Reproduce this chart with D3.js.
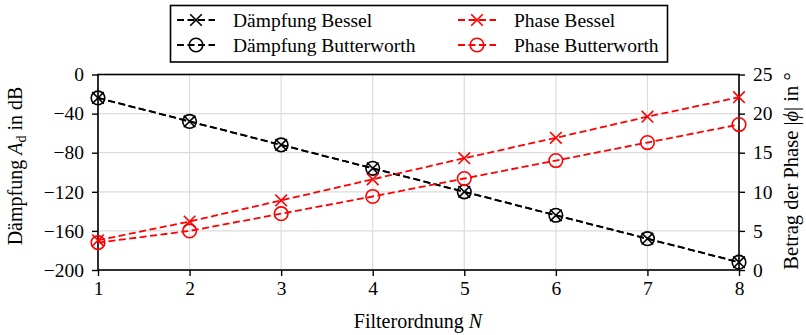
<!DOCTYPE html>
<html>
<head>
<meta charset="utf-8">
<script src="https://cdn.jsdelivr.net/npm/d3@7"></script>
<style>
  html, body { margin: 0; padding: 0; background: #fff; }
  svg text { font-family: "Liberation Serif", "DejaVu Serif", serif; fill: #000; }
</style>
</head>
<body>
<svg id="chart" width="806" height="335"></svg>
<script>
// Filter order on the x axis
const orders = [1, 2, 3, 4, 5, 6, 7, 8];

// Attenuation in dB (left axis)
const daempfungBessel      = [-24, -48, -72, -96, -120, -144, -168, -192];
const daempfungButterworth = [-24, -48, -72, -96, -120, -144, -168, -192];

// Magnitude of the phase in degrees (right axis)
const phaseBessel      = [3.8, 6.2, 8.9, 11.6, 14.3, 16.9, 19.6, 22.1];
const phaseButterworth = [3.5, 5.0, 7.2, 9.4, 11.7, 14.0, 16.3, 18.6];

// Tick labels
const xTicks = [1, 2, 3, 4, 5, 6, 7, 8];
const yLeftTicks = [0, -40, -80, -120, -160, -200];
const yRightTicks = [0, 5, 10, 15, 20, 25];

const svg = d3.select("#chart");
const m = { left: 98, right: 739, top: 74.5, bottom: 270 };

const x = d3.scaleLinear().domain([1, 8]).range([m.left, m.right]);
const yL = d3.scaleLinear().domain([-200, 0]).range([m.bottom, m.top]);
const yR = d3.scaleLinear().domain([0, 25]).range([m.bottom, m.top]);

// Grid
const grid = svg.append("g").attr("stroke", "#dcdcdc").attr("stroke-width", 1.2);
xTicks.forEach(t => grid.append("line")
  .attr("x1", x(t)).attr("x2", x(t)).attr("y1", m.top).attr("y2", m.bottom));
yLeftTicks.forEach(t => grid.append("line")
  .attr("x1", m.left).attr("x2", m.right).attr("y1", yL(t)).attr("y2", yL(t)));

const fmtMinus = d => (d < 0 ? "\u2212" + Math.abs(d) : String(d));

// Axes
const axisStyle = g => {
  g.select(".domain").remove();
  g.selectAll(".tick line").attr("stroke", "#000").attr("stroke-width", 1.4);
  g.selectAll(".tick text").style("font-size", "19.5px").attr("fill", "#000");
};

svg.append("g").attr("transform", `translate(0,${m.bottom})`)
  .call(d3.axisBottom(x).tickValues(xTicks).tickSize(6).tickPadding(5).tickFormat(d3.format("d")))
  .call(axisStyle);

svg.append("g").attr("transform", `translate(${m.left},0)`)
  .call(d3.axisLeft(yL).tickValues(yLeftTicks).tickSize(6).tickPadding(8).tickFormat(fmtMinus))
  .call(axisStyle);

svg.append("g").attr("transform", `translate(${m.right},0)`)
  .call(d3.axisRight(yR).tickValues(yRightTicks).tickSize(6).tickPadding(8).tickFormat(d3.format("d")))
  .call(axisStyle);

// Frame
svg.append("rect")
  .attr("x", m.left).attr("y", m.top)
  .attr("width", m.right - m.left).attr("height", m.bottom - m.top)
  .attr("fill", "none").attr("stroke", "#000").attr("stroke-width", 1.6);

// Series
const series = [
  { name: "Dämpfung Bessel", values: daempfungBessel, y: yL, color: "#000", marker: "x" },
  { name: "Dämpfung Butterworth", values: daempfungButterworth, y: yL, color: "#000", marker: "o" },
  { name: "Phase Bessel", values: phaseBessel, y: yR, color: "#ff0000", marker: "x" },
  { name: "Phase Butterworth", values: phaseButterworth, y: yR, color: "#ff0000", marker: "o" }
];

function drawMarker(g, type, cx, cy, color) {
  if (type === "x") {
    const s = 5.8;
    g.append("path")
      .attr("d", `M${cx - s},${cy - s}L${cx + s},${cy + s}M${cx - s},${cy + s}L${cx + s},${cy - s}`)
      .attr("stroke", color).attr("stroke-width", 1.6).attr("fill", "none");
  } else {
    g.append("circle").attr("cx", cx).attr("cy", cy).attr("r", 6.8)
      .attr("stroke", color).attr("stroke-width", 1.6).attr("fill", "none");
  }
}

const plot = svg.append("g");
series.forEach(s => {
  const line = d3.line().x((d, i) => x(orders[i])).y(d => s.y(d));
  plot.append("path").datum(s.values)
    .attr("d", line)
    .attr("fill", "none").attr("stroke", s.color).attr("stroke-width", 1.8)
    .attr("stroke-dasharray", "7,3.5");
  s.values.forEach((v, i) => drawMarker(plot, s.marker, x(orders[i]), s.y(v), s.color));
});

// Axis titles
const leftTitle = svg.append("text")
  .attr("transform", `translate(22,166) rotate(-90)`)
  .attr("text-anchor", "middle").style("font-size", "20px");
leftTitle.append("tspan").text("Dämpfung ");
leftTitle.append("tspan").style("font-style", "italic").text("A");
leftTitle.append("tspan").attr("dy", 4).style("font-size", "14px").text("d");
leftTitle.append("tspan").attr("dy", -4).text(" in dB");

const rightTitle = svg.append("text")
  .attr("transform", `translate(798,171) rotate(-90)`)
  .attr("text-anchor", "middle").style("font-size", "20.5px");
rightTitle.append("tspan").text("Betrag der Phase |");
rightTitle.append("tspan").style("font-style", "italic").text("ϕ");
rightTitle.append("tspan").text("| in °");

const xTitle = svg.append("text")
  .attr("x", 418).attr("y", 328)
  .attr("text-anchor", "middle").style("font-size", "20px");
xTitle.append("tspan").text("Filterordnung ");
xTitle.append("tspan").style("font-style", "italic").text("N");

// Legend
const leg = svg.append("g");
leg.append("rect").attr("x", 170.5).attr("y", 5.5).attr("width", 497).attr("height", 56.5)
  .attr("fill", "#fff").attr("stroke", "#000").attr("stroke-width", 1.6);
const legPos = [
  { lx: 177, tx: 233, y: 20 },
  { lx: 177, tx: 233, y: 45 },
  { lx: 458, tx: 514, y: 20 },
  { lx: 458, tx: 514, y: 45 }
];
series.forEach((s, i) => {
  const p = legPos[i];
  leg.append("line").attr("x1", p.lx).attr("x2", p.lx + 38).attr("y1", p.y).attr("y2", p.y)
    .attr("stroke", s.color).attr("stroke-width", 1.8).attr("stroke-dasharray", "7,3.5");
  drawMarker(leg, s.marker, p.lx + 19, p.y, s.color);
  leg.append("text").attr("x", p.tx).attr("y", p.y).attr("dy", "0.35em")
    .style("font-size", "19.5px").text(s.name);
});
</script>
</body>
</html>
